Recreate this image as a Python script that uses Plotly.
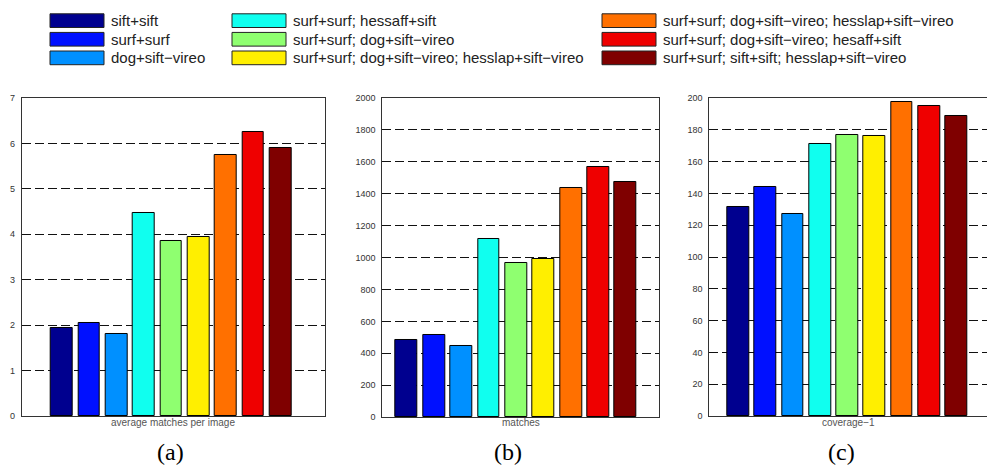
import plotly.graph_objects as go

categories = [
    "sift+sift",
    "surf+surf",
    "dog+sift\u2212vireo",
    "surf+surf; hessaff+sift",
    "surf+surf; dog+sift\u2212vireo",
    "surf+surf; dog+sift\u2212vireo; hesslap+sift\u2212vireo",
    "surf+surf; dog+sift\u2212vireo; hesslap+sift\u2212vireo",
    "surf+surf; dog+sift\u2212vireo; hesaff+sift",
    "surf+surf; sift+sift; hesslap+sift\u2212vireo",
]
colors = ["#00008F", "#0010FF", "#0090FF", "#10FFEF", "#8FFF70",
          "#FFEF00", "#FF7000", "#EF0000", "#7F0000"]

avg_matches = [1.95, 2.06, 1.80, 4.47, 3.85, 3.94, 5.74, 6.26, 5.89]
matches = [486, 517, 448, 1117, 965, 988, 1436, 1566, 1474]
coverage = [131.3, 143.8, 127.0, 170.9, 176.8, 175.8, 197.7, 194.7, 188.7]

panel_titles = ["average matches per image", "matches", "coverage\u22121"]
panel_letters = ["(a)", "(b)", "(c)"]
y_ticks = [list(range(0, 8)), list(range(0, 2001, 200)), list(range(0, 201, 20))]
y_ranges = [[0, 7], [0, 2000], [0, 200]]
x_ranges = [[-0.47, 10.63], [0.11, 10.22], [-0.07, 10.13]]

W, H = 987, 472
def px(x):
    return x / W
def py(y):
    return 1 - y / H

x_domains = [[px(21.7), px(325)], [px(382.3), px(659)], [px(709.3), 1.0]]
y_domains = [[py(420), py(95)], [py(421), py(95)], [py(420), py(95)]]

xpos = list(range(1, len(categories) + 1))
fig = go.Figure()
series = [avg_matches, matches, coverage]
for i, vals in enumerate(series):
    sfx = "" if i == 0 else str(i + 1)
    fig.add_trace(go.Bar(
        x=xpos, y=vals, width=0.8,
        marker=dict(color=colors, line=dict(color="black", width=1)),
        xaxis="x" + sfx, yaxis="y" + sfx, showlegend=False,
        hoverinfo="y",
    ))

layout = dict(
    width=W, height=H, margin=dict(l=0, r=0, t=0, b=0),
    paper_bgcolor="white", plot_bgcolor="white",
    font=dict(family="Liberation Sans, Arial, sans-serif", color="#222"),
    bargap=0,
)
for i in range(3):
    sfx = "" if i == 0 else str(i + 1)
    layout["xaxis" + sfx] = dict(
        domain=x_domains[i], range=x_ranges[i], anchor="y" + sfx,
        showticklabels=False, ticks="", showgrid=False, zeroline=False,
        showline=True, linecolor="#333", linewidth=1, mirror=True,
        fixedrange=True,
    )
    layout["yaxis" + sfx] = dict(
        domain=y_domains[i], range=y_ranges[i], anchor="x" + sfx,
        tickvals=y_ticks[i], ticks="", ticklabelstandoff=4,
        tickfont=dict(size=9, color="#333"),
        showgrid=True, gridcolor="#111", gridwidth=1, griddash="9px,4px",
        zeroline=False, showline=True, linecolor="#333", linewidth=1,
        mirror=(i < 2), fixedrange=True,
    )

annotations = []
shapes = []
centers = [(21.7 + 325) / 2, (382.3 + 659) / 2, (709.3 + 987) / 2]
letter_x = [170, 508, 841]
for i in range(3):
    annotations.append(dict(
        x=px(centers[i]), y=py(426.5), xref="paper", yref="paper",
        text=panel_titles[i], showarrow=False,
        font=dict(size=10, color="#555"), xanchor="center", yanchor="middle",
    ))
    annotations.append(dict(
        x=px(letter_x[i]), y=py(457), xref="paper", yref="paper",
        text=panel_letters[i], showarrow=False,
        font=dict(size=24, color="black", family="Liberation Serif, Times New Roman, serif"),
        xanchor="center", yanchor="middle",
    ))

# legend: 3 columns x 3 rows
col_swatch_x = [50, 232, 602]
row_y = [16, 35, 54]
for k, name in enumerate(categories):
    c, r = divmod(k, 3)
    x0 = col_swatch_x[c]
    yc = row_y[r]
    shapes.append(dict(
        type="rect", xref="paper", yref="paper",
        x0=px(x0), x1=px(x0 + 54), y0=py(yc + 7), y1=py(yc - 7),
        fillcolor=colors[k], line=dict(color="#222", width=1),
    ))
    annotations.append(dict(
        x=px(x0 + 59), y=py(yc), xref="paper", yref="paper",
        text=name, showarrow=False, xanchor="left", yanchor="middle",
        font=dict(size=15, color="#222"),
    ))

layout["annotations"] = annotations
layout["shapes"] = shapes
fig.update_layout(**layout)
fig.write_html("out.html")
